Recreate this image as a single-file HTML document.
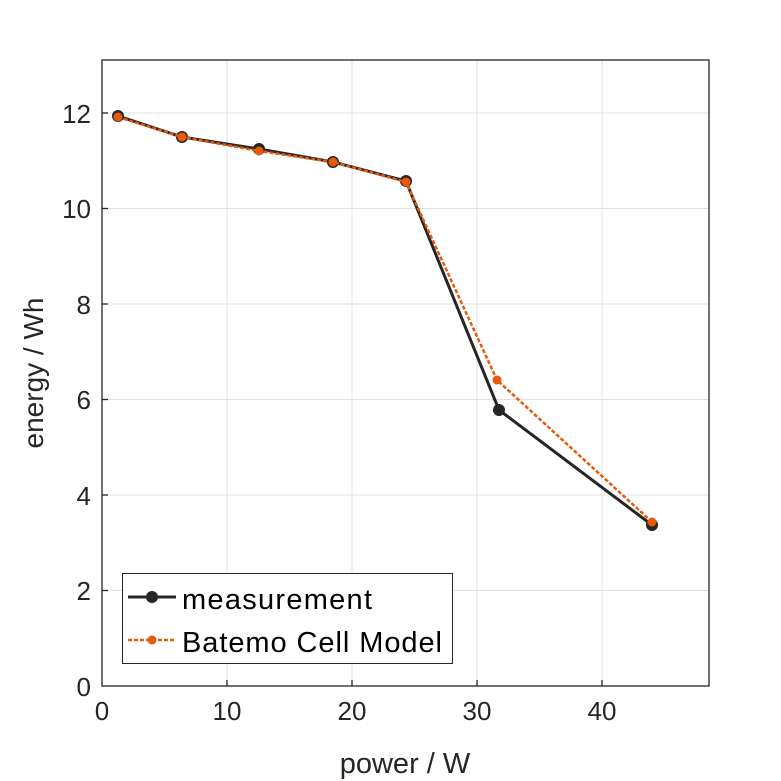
<!DOCTYPE html>
<html><head><style>body{margin:0;background:#fff}svg{display:block}text{font-family:"Liberation Sans",sans-serif;fill:#262626}</style></head><body>
<svg width="781" height="781" viewBox="0 0 781 781">
<rect width="781" height="781" fill="#fff"/>
<g stroke="#e0e0e0" stroke-width="1">
<line x1="227" y1="60" x2="227" y2="686"/><line x1="352" y1="60" x2="352" y2="686"/><line x1="477" y1="60" x2="477" y2="686"/><line x1="602" y1="60" x2="602" y2="686"/>
<line x1="102" y1="590.5" x2="709" y2="590.5"/><line x1="102" y1="495" x2="709" y2="495"/><line x1="102" y1="399.5" x2="709" y2="399.5"/><line x1="102" y1="304" x2="709" y2="304"/><line x1="102" y1="208.5" x2="709" y2="208.5"/><line x1="102" y1="113" x2="709" y2="113"/>
</g>
<rect x="102" y="60" width="607" height="626" fill="none" stroke="#262626" stroke-width="1.3"/>
<g stroke="#262626" stroke-width="1.3">
<line x1="227" y1="686" x2="227" y2="680"/><line x1="352" y1="686" x2="352" y2="680"/><line x1="477" y1="686" x2="477" y2="680"/><line x1="602" y1="686" x2="602" y2="680"/>
<line x1="102" y1="590.5" x2="108" y2="590.5"/><line x1="102" y1="495" x2="108" y2="495"/><line x1="102" y1="399.5" x2="108" y2="399.5"/><line x1="102" y1="304" x2="108" y2="304"/><line x1="102" y1="208.5" x2="108" y2="208.5"/><line x1="102" y1="113" x2="108" y2="113"/>
</g>
<g font-size="26" text-anchor="middle">
<text x="102" y="720">0</text><text x="227" y="720">10</text><text x="352" y="720">20</text><text x="477" y="720">30</text><text x="602" y="720">40</text>
</g>
<text x="405" y="773" font-size="29" text-anchor="middle">power / W</text>
<g font-size="26" text-anchor="end">
<text x="91" y="696">0</text><text x="91" y="600">2</text><text x="91" y="505">4</text><text x="91" y="409">6</text><text x="91" y="314">8</text><text x="91" y="218">10</text><text x="91" y="123">12</text>
</g>
<text font-size="28" text-anchor="middle" transform="translate(43,373) rotate(-90)">energy / Wh</text>
<polyline points="118,116 182,137 259,149 333,162 406,181 499,410 652,525" fill="none" stroke="#262626" stroke-width="3"/>
<g fill="#262626"><circle cx="118" cy="116" r="6"/><circle cx="182" cy="137" r="6"/><circle cx="259" cy="149" r="6"/><circle cx="333" cy="162" r="6"/><circle cx="406" cy="181" r="6"/><circle cx="499" cy="410" r="6"/><circle cx="652" cy="525" r="6"/></g>
<polyline points="118,117 182,137 259,151 333,162 406,182 497,380 652,522" fill="none" stroke="#e8590c" stroke-width="2.5" stroke-dasharray="4,2"/>
<g fill="#e8590c"><circle cx="118" cy="117" r="4.5"/><circle cx="182" cy="137" r="4.5"/><circle cx="259" cy="151" r="4.5"/><circle cx="333" cy="162" r="4.5"/><circle cx="406" cy="182" r="4.5"/><circle cx="497" cy="380" r="4.5"/><circle cx="652" cy="522" r="4.5"/></g>
<rect x="122.5" y="573.5" width="330" height="90" fill="#fff" stroke="#262626" stroke-width="1"/>
<line x1="128" y1="597" x2="176" y2="597" stroke="#262626" stroke-width="3"/><circle cx="152" cy="597" r="6" fill="#262626"/>
<line x1="128" y1="640" x2="176" y2="640" stroke="#e8590c" stroke-width="2.5" stroke-dasharray="4,2"/><circle cx="152" cy="640" r="4.5" fill="#e8590c"/>
<text x="182" y="609" font-size="29" textLength="190" style="fill:#000">measurement</text>
<text x="182" y="652" font-size="29" textLength="260" style="fill:#000">Batemo Cell Model</text>
</svg>
</body></html>
